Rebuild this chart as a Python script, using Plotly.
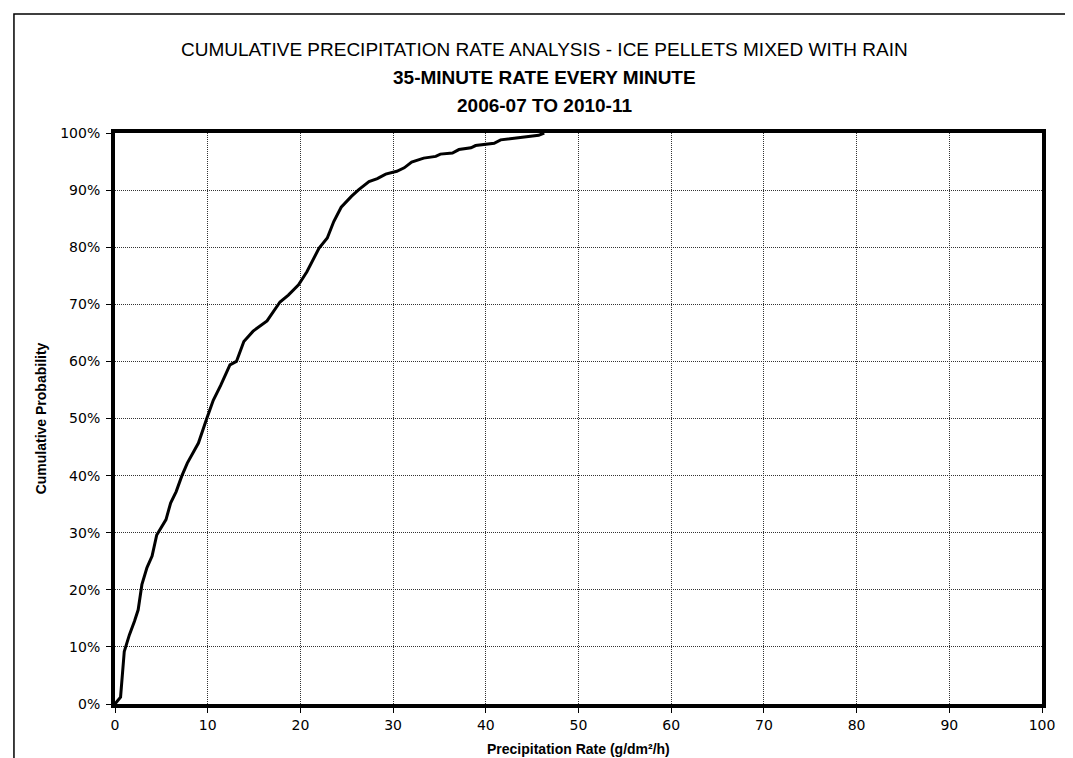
import plotly.graph_objects as go

# cumulative distribution
rate = [0, 0.6, 1.0, 1.55, 2.1, 2.5, 2.9, 3.45, 4.0, 4.5, 5.5, 6.0, 6.6, 7.2, 7.8, 9.0,
        9.9, 10.6, 11.4, 12.4, 13.1, 13.9, 14.9, 16.4, 17.8, 18.7, 19.8, 20.7, 22.0,
        22.9, 23.6, 24.4, 25.5, 26.3, 27.4, 28.3, 29.2, 30.4, 31.2, 32.0, 33.3, 34.6,
        35.1, 36.4, 37.1, 38.4, 38.9, 40.3, 40.9, 41.6, 43.2, 44.5, 45.7, 46.3]
prob = [0, 1.2, 9.2, 12.1, 14.5, 16.5, 20.9, 23.9, 25.9, 29.6, 32.3, 35.2, 37.2, 39.9,
        42.2, 45.7, 50.0, 53.2, 55.8, 59.4, 60.0, 63.5, 65.3, 67.1, 70.4, 71.6, 73.4,
        75.7, 79.8, 81.6, 84.5, 87.0, 88.9, 90.1, 91.5, 92.0, 92.8, 93.3, 93.9, 94.9,
        95.6, 95.9, 96.3, 96.5, 97.1, 97.4, 97.8, 98.0, 98.2, 98.8, 99.1, 99.4, 99.6, 100]

title_lines = ["CUMULATIVE PRECIPITATION RATE ANALYSIS - ICE PELLETS MIXED WITH RAIN",
               "<b>35-MINUTE RATE EVERY MINUTE</b>",
               "<b>2006-07 TO 2010-11</b>"]
x_title = "<b>Precipitation Rate (g/dm²/h)</b>"
y_title = "<b>Cumulative Probability</b>"

fig = go.Figure()
fig.add_trace(go.Scatter(x=rate, y=prob, mode="lines",
                         line=dict(color="black", width=3), showlegend=False))

axis_common = dict(showline=True, linecolor="black", linewidth=4, mirror=True,
                   showgrid=True, gridcolor="#333", griddash="1px,1px", gridwidth=1,
                   ticks="outside", ticklen=5, tickcolor="black", tickwidth=1,
                   zeroline=False, tickfont=dict(family="DejaVu Sans", size=14, color="black"))

fig.update_xaxes(range=[0, 100], dtick=10, **axis_common)
fig.update_yaxes(range=[0, 100], dtick=10, ticksuffix="%", ticklabelstandoff=3, **axis_common)

tfont = "Liberation Sans"
for txt, yy in zip(title_lines, [1.147, 1.098, 1.049]):
    fig.add_annotation(text=txt, xref="paper", yref="paper", x=0.463, y=yy,
                       showarrow=False, xanchor="center", yanchor="middle",
                       font=dict(family=tfont, size=19, color="black"))

fig.add_annotation(text=x_title, xref="paper", yref="paper", x=0.5, y=-0.079,
                   showarrow=False, yanchor="middle",
                   font=dict(family=tfont, size=14, color="black"))
fig.add_annotation(text=y_title, xref="paper", yref="paper", x=-0.08, y=0.5,
                   showarrow=False, textangle=-90, xanchor="center",
                   font=dict(family=tfont, size=14, color="black"))

# thin outer frame of the chart area
fig.add_shape(type="rect", xref="paper", yref="paper", x0=-0.109, x1=1.0378,
              y0=-0.13, y1=1.2084, line=dict(color="black", width=1.5))

fig.update_layout(width=1073, height=758, plot_bgcolor="white", paper_bgcolor="white",
                  margin=dict(l=107, r=39, t=125, b=62))

fig.write_html("out.html")
